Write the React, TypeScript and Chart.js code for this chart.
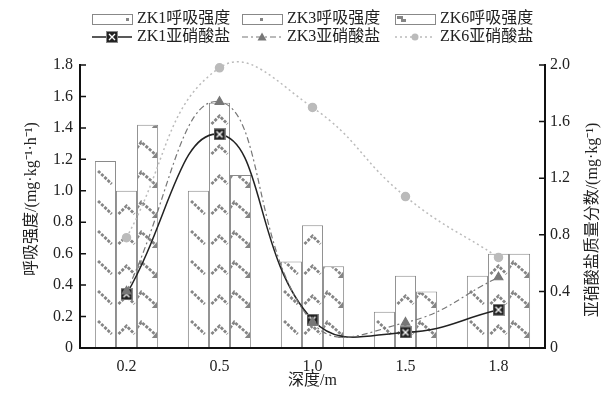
import { useEffect, useRef } from 'react';
import { Chart, registerables } from 'chart.js';
Chart.register(...registerables);

const depths = ['0.2', '0.5', '1.0', '1.5', '1.8'];
const zk1Resp = [1.19, 1.0, 0.55, 0.23, 0.46];
const zk3Resp = [1.0, 1.56, 0.78, 0.46, 0.6];
const zk6Resp = [1.42, 1.1, 0.52, 0.36, 0.6];
const zk1Nitrite = [0.38, 1.51, 0.2, 0.11, 0.27];
const zk3Nitrite = [0.4, 1.74, 0.18, 0.18, 0.5];
const zk6Nitrite = [0.78, 1.98, 1.7, 1.07, 0.64];
const leftTicks = [0, 0.2, 0.4, 0.6, 0.8, 1.0, 1.2, 1.4, 1.6, 1.8];
const rightTicks = [0, 0.4, 0.8, 1.2, 1.6, 2.0];
const respLabels = ['ZK1呼吸强度', 'ZK3呼吸强度', 'ZK6呼吸强度'];
const nitriteLabels = ['ZK1亚硝酸盐', 'ZK3亚硝酸盐', 'ZK6亚硝酸盐'];

const FONT = '"Liberation Serif", "Noto Sans CJK SC", serif';
const PAT = '#858585';

function makeXMarker(size: number) {
  const c = document.createElement('canvas');
  c.width = size; c.height = size;
  const g = c.getContext('2d')!;
  g.fillStyle = '#222';
  g.fillRect(0, 0, size, size);
  g.strokeStyle = '#fff';
  g.lineWidth = 1.4;
  g.beginPath();
  g.moveTo(3, 3); g.lineTo(size - 3, size - 3);
  g.moveTo(size - 3, 3); g.lineTo(3, size - 3);
  g.stroke();
  g.strokeStyle = '#888';
  g.lineWidth = 1;
  g.strokeRect(0.5, 0.5, size - 1, size - 1);
  return c;
}

function drawMotif(ctx: CanvasRenderingContext2D, kind: string, l: number, r: number, top: number, bot: number) {
  const w = r - l;
  ctx.strokeStyle = PAT;
  ctx.fillStyle = PAT;
  ctx.lineWidth = 2.8;
  ctx.setLineDash([3, 1.4]);
  const step = 30;
  for (let yy = bot - 14; yy > top - 30; yy -= step) {
    ctx.beginPath();
    if (kind === 'diag') {
      ctx.moveTo(l + 0.15 * w, yy - 13);
      ctx.lineTo(l + 0.8 * w, yy);
      ctx.stroke();
    } else if (kind === 'chev') {
      ctx.moveTo(l + 0.12 * w, yy);
      ctx.lineTo(l + 0.5 * w, yy - 8);
      ctx.lineTo(l + 0.88 * w, yy);
      ctx.stroke();
    } else {
      ctx.moveTo(l + 0.0 * w, yy - 6);
      ctx.lineTo(l + 0.2 * w, yy - 12);
      ctx.lineTo(l + 0.95 * w, yy + 2);
      ctx.stroke();
      ctx.setLineDash([]);
      ctx.beginPath();
      ctx.moveTo(l + 0.98 * w, yy + 4);
      ctx.lineTo(l + 0.98 * w, yy - 3);
      ctx.lineTo(l + 0.7 * w, yy + 4);
      ctx.closePath();
      ctx.fill();
      ctx.setLineDash([3, 1.4]);
    }
  }
  ctx.setLineDash([]);
}

const patternPlugin = {
  id: 'patterns',
  afterDatasetDraw(chart: any, args: any) {
    const ds = chart.data.datasets[args.index];
    const kind = ds.motif;
    if (!kind) return;
    const ctx = chart.ctx as CanvasRenderingContext2D;
    args.meta.data.forEach((el: any) => {
      const p = el.getProps(['x', 'y', 'base', 'width'], true);
      const l = p.x - p.width / 2, r = p.x + p.width / 2;
      const top = Math.min(p.y, p.base), bot = Math.max(p.y, p.base);
      ctx.save();
      ctx.beginPath();
      ctx.rect(l + 1, top + 1, p.width - 2, bot - top - 1);
      ctx.clip();
      drawMotif(ctx, kind, l, r, top, bot);
      ctx.restore();
    });
  },
};

const decorPlugin = {
  id: 'decor',
  afterDraw(chart: any) {
    const ctx = chart.ctx as CanvasRenderingContext2D;
    const a = chart.chartArea;
    const y = chart.scales.y, y2 = chart.scales.y2;
    ctx.save();
    ctx.strokeStyle = '#111';
    ctx.lineWidth = 2;
    ctx.beginPath();
    ctx.moveTo(a.left, a.top - 1); ctx.lineTo(a.left, a.bottom);
    ctx.moveTo(a.right, a.top - 1); ctx.lineTo(a.right, a.bottom);
    ctx.moveTo(a.left - 1, a.bottom); ctx.lineTo(a.right + 1, a.bottom);
    ctx.stroke();
    ctx.lineWidth = 1.5;
    ctx.beginPath();
    leftTicks.forEach(v => { const py = y.getPixelForValue(v); ctx.moveTo(a.left, py); ctx.lineTo(a.left + 6, py); });
    rightTicks.forEach(v => { const py = y2.getPixelForValue(v); ctx.moveTo(a.right, py); ctx.lineTo(a.right - 6, py); });
    ctx.stroke();

    ctx.fillStyle = '#222';
    ctx.font = '16px ' + FONT;
    ctx.textAlign = 'center';
    ctx.textBaseline = 'middle';
    ctx.fillText('深度/m', (a.left + a.right) / 2, 381);
    ctx.save();
    ctx.translate(32, 199);
    ctx.rotate(-Math.PI / 2);
    ctx.fillText('呼吸强度/(mg·kg⁻¹·h⁻¹)', 0, 0);
    ctx.restore();
    ctx.save();
    ctx.translate(593, 220);
    ctx.rotate(-Math.PI / 2);
    ctx.fillText('亚硝酸盐质量分数/(mg·kg⁻¹)', 0, 0);
    ctx.restore();

    const cols = [92, 242, 395];
    const motifs = ['diag', 'chev', 'zig'];
    const row1 = 19, row2 = 37;
    ctx.textAlign = 'left';
    cols.forEach((x0, i) => {
      ctx.strokeStyle = '#888';
      ctx.lineWidth = 1;
      ctx.fillStyle = '#fff';
      ctx.fillRect(x0, row1 - 5, 40, 10);
      ctx.strokeRect(x0 + 0.5, row1 - 4.5, 40, 10);
      ctx.fillStyle = PAT;
      if (motifs[i] === 'diag') ctx.fillRect(x0 + 34, row1 - 1, 3, 3);
      else if (motifs[i] === 'chev') ctx.fillRect(x0 + 18, row1 - 1, 3, 3);
      else { ctx.fillRect(x0 + 2, row1 - 3, 6, 3); ctx.fillRect(x0 + 6, row1, 5, 3); }
      ctx.fillStyle = '#222';
      ctx.fillText(respLabels[i], x0 + 45, row1);

      const mid = x0 + 20;
      ctx.beginPath();
      if (i === 0) { ctx.strokeStyle = '#222'; ctx.lineWidth = 1.5; ctx.setLineDash([]); }
      else if (i === 1) { ctx.strokeStyle = '#777'; ctx.lineWidth = 1.2; ctx.setLineDash([6, 3, 2, 3]); }
      else { ctx.strokeStyle = '#bbb'; ctx.lineWidth = 1.5; ctx.setLineDash([2, 3]); }
      ctx.moveTo(x0, row2); ctx.lineTo(x0 + 40, row2);
      ctx.stroke();
      ctx.setLineDash([]);
      if (i === 0) {
        ctx.drawImage(xMarker, mid - 6, row2 - 6);
      } else if (i === 1) {
        ctx.fillStyle = '#777';
        ctx.beginPath();
        ctx.moveTo(mid, row2 - 4.5); ctx.lineTo(mid + 4.5, row2 + 3.5); ctx.lineTo(mid - 4.5, row2 + 3.5);
        ctx.closePath(); ctx.fill();
      } else {
        ctx.fillStyle = '#bbb';
        ctx.beginPath(); ctx.arc(mid, row2, 3.5, 0, Math.PI * 2); ctx.fill();
      }
      ctx.fillStyle = '#222';
      ctx.fillText(nitriteLabels[i], x0 + 45, row2);
    });
    ctx.restore();
  },
};

const xMarker = makeXMarker(12);

export default function App() {
  const ref = useRef<HTMLCanvasElement>(null);
  useEffect(() => {
    document.body.style.margin = '0';
    const barBase = { type: 'bar' as const, yAxisID: 'y', backgroundColor: '#fff', borderColor: '#8a8a8a', borderWidth: 1, borderSkipped: 'start', order: 2, categoryPercentage: 0.68, barPercentage: 1 };
    const lineBase = { type: 'line' as const, yAxisID: 'y2', tension: 0.45, fill: false, order: 0, clip: false, capBezierPoints: false };
    const chart = new Chart(ref.current!, {
      type: 'bar',
      data: {
        labels: depths,
        datasets: [
          { ...barBase, label: respLabels[0], data: zk1Resp, motif: 'diag' } as any,
          { ...barBase, label: respLabels[1], data: zk3Resp, motif: 'chev' } as any,
          { ...barBase, label: respLabels[2], data: zk6Resp, motif: 'zig' } as any,
          { ...lineBase, label: nitriteLabels[2], data: zk6Nitrite, borderColor: '#bbb', borderWidth: 1.5, borderDash: [2, 3], pointStyle: 'circle', pointRadius: 4, backgroundColor: '#bbb', pointBorderColor: '#bbb' } as any,
          { ...lineBase, label: nitriteLabels[1], data: zk3Nitrite, borderColor: '#777', borderWidth: 1.2, borderDash: [6, 3, 2, 3], pointStyle: 'triangle', pointRadius: 5, backgroundColor: '#777', pointBorderColor: '#777' } as any,
          { ...lineBase, label: nitriteLabels[0], data: zk1Nitrite, borderColor: '#222', borderWidth: 1.5, pointStyle: xMarker, pointRadius: 6 } as any,
        ],
      },
      options: {
        responsive: false,
        animation: false,
        layout: { padding: { top: 65, left: 0, right: 0, bottom: 0 } },
        elements: { line: { capBezierPoints: false } },
        plugins: { legend: { display: false }, tooltip: { enabled: false } },
        scales: {
          x: {
            grid: { display: false, drawTicks: false },
            border: { display: false },
            ticks: { color: '#222', font: { family: FONT, size: 16 }, padding: 9 },
            afterFit: (s: any) => { s.height = 49; },
          },
          y: {
            position: 'left',
            min: 0, max: 1.8,
            grid: { display: false, drawTicks: false },
            border: { display: false },
            afterBuildTicks: (s: any) => { s.ticks = leftTicks.map(v => ({ value: v })); },
            ticks: { color: '#222', font: { family: FONT, size: 16 }, padding: 7, callback: (v: any) => (v === 0 ? '0' : Number(v).toFixed(1)) },
            afterFit: (s: any) => { s.width = 80; },
          },
          y2: {
            position: 'right',
            min: 0, max: 2.0,
            grid: { display: false, drawTicks: false },
            border: { display: false },
            afterBuildTicks: (s: any) => { s.ticks = rightTicks.map(v => ({ value: v })); },
            ticks: { color: '#222', font: { family: FONT, size: 16 }, padding: 5, callback: (v: any) => (v === 0 ? '0' : Number(v).toFixed(1)) },
            afterFit: (s: any) => { s.width = 63; },
          },
        },
      } as any,
      plugins: [patternPlugin, decorPlugin],
    });
    return () => chart.destroy();
  }, []);
  return (
    <div style={{ width: 608, height: 397, background: '#fff' }}>
      <canvas ref={ref} width={608} height={397} style={{ width: 608, height: 397, display: 'block' }} />
    </div>
  );
}
